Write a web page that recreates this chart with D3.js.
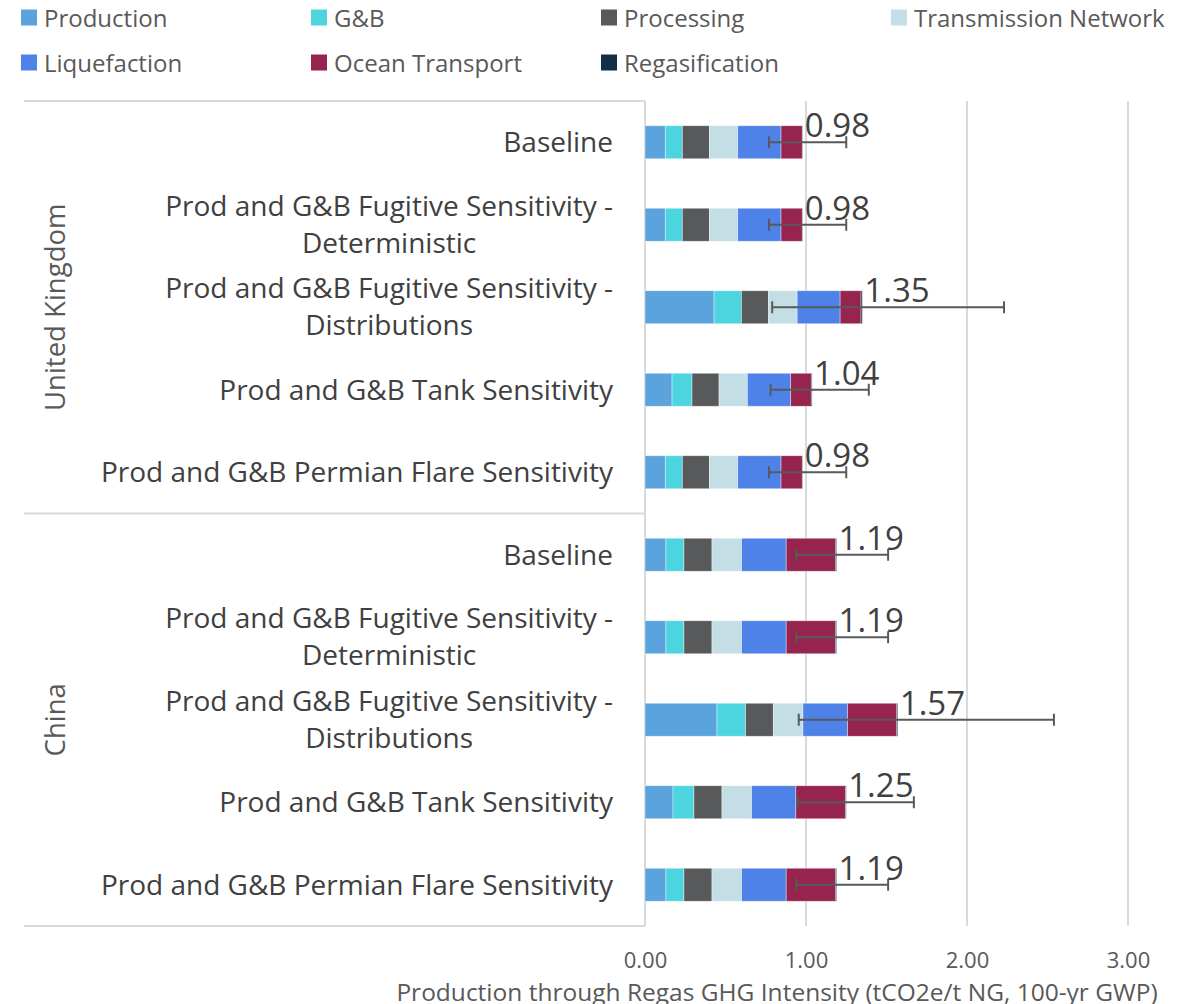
<!DOCTYPE html>
<html>
<head>
<meta charset="utf-8">
<script src="https://cdn.jsdelivr.net/npm/d3@7"></script>
<style>
  body { margin: 0; background: #fff; }
  svg { display: block; font-family: "Open Sans", sans-serif; }
</style>
</head>
<body>
<div id="chart"></div>
<script>
// data
const countries = ["United Kingdom", "China"];
const scenarios = [
    ["Baseline"],
    ["Prod and G&B Fugitive Sensitivity -", "Deterministic"],
    ["Prod and G&B Fugitive Sensitivity -", "Distributions"],
    ["Prod and G&B Tank Sensitivity"],
    ["Prod and G&B Permian Flare Sensitivity"]
];
const seriesNames = ["Production", "G&B", "Processing", "Transmission Network", "Liquefaction", "Ocean Transport", "Regasification"];
const seriesColors = ["#5ba3dc", "#4dd5df", "#58595b", "#c3dee5", "#4e82e8", "#97244e", "#10304a"];

// one value per row: UK x5 then China x5
const production   = [0.126, 0.126, 0.429, 0.168, 0.126, 0.130, 0.130, 0.447, 0.174, 0.130];
const gb           = [0.106, 0.106, 0.170, 0.124, 0.106, 0.112, 0.112, 0.178, 0.130, 0.112];
const processing   = [0.168, 0.168, 0.168, 0.168, 0.168, 0.174, 0.174, 0.172, 0.174, 0.174];
const transmission = [0.176, 0.176, 0.178, 0.176, 0.176, 0.184, 0.184, 0.184, 0.184, 0.184];
const liquefaction = [0.269, 0.269, 0.267, 0.269, 0.269, 0.277, 0.277, 0.277, 0.275, 0.277];
const ocean        = [0.132, 0.132, 0.130, 0.128, 0.132, 0.306, 0.306, 0.306, 0.309, 0.306];
const regas        = [0.003, 0.003, 0.008, 0.005, 0.003, 0.007, 0.007, 0.006, 0.004, 0.007];
const errLow       = [0.77, 0.77, 0.79, 0.78, 0.77, 0.94, 0.94, 0.955, 0.946, 0.94];
const errHigh      = [1.25, 1.25, 2.23, 1.39, 1.25, 1.51, 1.51, 2.54, 1.67, 1.51];
const xTicks = [0, 1, 2, 3];
const xTitle = "Production through Regas GHG Intensity (tCO2e/t NG, 100-yr GWP)";

const width = 1192, height = 1004;
const plot = { left: 645, right: 1128, top: 101, bottom: 926 };
const groupLeft = 24;
const gridColor = "#d9d9d9";

// build rows
const seriesValues = [production, gb, processing, transmission, liquefaction, ocean, regas];
const rows = [];
countries.forEach((c, ci) => {
    scenarios.forEach((s, si) => {
        const i = ci * scenarios.length + si;
        const r = { id: i, country: c, lines: s, lo: errLow[i], hi: errHigh[i] };
        seriesNames.forEach((n, k) => { r[n] = seriesValues[k][i]; });
        r.total = d3.sum(seriesValues, v => v[i]);
        rows.push(r);
    });
});

const svg = d3.select("#chart").append("svg")
    .attr("width", width)
    .attr("height", height);

const x = d3.scaleLinear().domain([0, 3]).range([plot.left, plot.right]);
const y = d3.scaleBand()
    .domain(rows.map(d => d.id))
    .range([plot.top, plot.bottom])
    .paddingInner(0.6)
    .paddingOuter(0.3);

// gridlines
svg.append("g").selectAll("line")
    .data(xTicks.slice(1))
    .enter().append("line")
    .attr("x1", d => x(d)).attr("x2", d => x(d))
    .attr("y1", plot.top).attr("y2", plot.bottom)
    .attr("stroke", gridColor).attr("stroke-width", 2);

// category axis line + group separators
svg.append("line")
    .attr("x1", x(0)).attr("x2", x(0))
    .attr("y1", plot.top).attr("y2", plot.bottom)
    .attr("stroke", gridColor).attr("stroke-width", 2);

const groupSize = scenarios.length;
const groupEdges = d3.range(countries.length + 1).map(g =>
    g === countries.length ? plot.bottom : y(g * groupSize) - y.step() * y.paddingOuter());
svg.append("g").selectAll("line")
    .data(groupEdges)
    .enter().append("line")
    .attr("x1", groupLeft).attr("x2", x(0))
    .attr("y1", d => d).attr("y2", d => d)
    .attr("stroke", gridColor).attr("stroke-width", 2);

// stacked bars
const stack = d3.stack().keys(seriesNames)(rows);
svg.append("g").selectAll("g")
    .data(stack)
    .enter().append("g")
    .attr("fill", (d, i) => seriesColors[i])
    .selectAll("rect")
    .data(d => d)
    .enter().append("rect")
    .attr("x", d => x(d[0]))
    .attr("y", d => y(d.data.id))
    .attr("width", d => x(d[1]) - x(d[0]))
    .attr("height", y.bandwidth())
    .attr("stroke", "#ffffff")
    .attr("stroke-opacity", 0.5)
    .attr("stroke-width", 0.75);

// error bars
const capH = 6;
const err = svg.append("g").attr("stroke", "#595959").attr("stroke-width", 2);
rows.forEach(d => {
    const cy = y(d.id) + y.bandwidth() / 2;
    err.append("line").attr("x1", x(d.lo)).attr("x2", x(d.hi)).attr("y1", cy).attr("y2", cy);
    err.append("line").attr("x1", x(d.lo)).attr("x2", x(d.lo)).attr("y1", cy - capH).attr("y2", cy + capH);
    err.append("line").attr("x1", x(d.hi)).attr("x2", x(d.hi)).attr("y1", cy - capH).attr("y2", cy + capH);
});

// total labels
svg.append("g").selectAll("text")
    .data(rows)
    .enter().append("text")
    .attr("x", d => x(d.total) + 2)
    .attr("y", d => y(d.id) + y.bandwidth() / 2 - 5)
    .attr("font-size", 33)
    .attr("fill", "#404040")
    .text(d => d.total.toFixed(2));

// category labels
const catG = svg.append("g")
    .attr("font-size", 28)
    .attr("fill", "#404040")
    .attr("text-anchor", "middle");
rows.forEach(d => {
    const cy = y(d.id) + y.bandwidth() / 2 - 1;
    const t = catG.append("text").attr("dominant-baseline", "central");
    if (d.lines.length === 1) {
        t.attr("x", 613).attr("y", cy).attr("text-anchor", "end").text(d.lines[0]);
    } else {
        // two-line labels are centred on the first line
        t.attr("text-anchor", "end").attr("x", 613).attr("y", cy - 19).text(d.lines[0]);
        const w = t.node().getComputedTextLength();
        catG.append("text").attr("dominant-baseline", "central")
            .attr("x", 613 - w / 2).attr("y", cy + 18).text(d.lines[1]);
    }
});

// country labels
svg.append("g").selectAll("text")
    .data(countries)
    .enter().append("text")
    .attr("transform", (d, i) => "translate(54," + ((groupEdges[i] + groupEdges[i + 1]) / 2) + ") rotate(-90)")
    .attr("text-anchor", "middle")
    .attr("dominant-baseline", "central")
    .attr("font-size", 27.5)
    .attr("fill", "#595959")
    .text(d => d);

// x axis tick labels
const xAxis = svg.append("g")
    .attr("transform", "translate(0," + plot.bottom + ")")
    .call(d3.axisBottom(x).tickValues(xTicks).tickFormat(d3.format(".2f")).tickSize(0).tickPadding(26));
xAxis.select(".domain").remove();
xAxis.selectAll("text")
    .attr("font-family", "Open Sans, sans-serif")
    .attr("font-size", 22)
    .attr("fill", "#595959");

// axis title (runs to the bottom edge, as in the original)
svg.append("text")
    .attr("x", 777)
    .attr("y", 1001)
    .attr("text-anchor", "middle")
    .attr("font-size", 24.5)
    .attr("fill", "#595959")
    .text(xTitle);

// legend, 4 columns x 2 rows
const legend = svg.append("g").selectAll("g")
    .data(seriesNames)
    .enter().append("g")
    .attr("transform", (d, i) => "translate(" + (21 + (i % 4) * 290) + "," + (17.5 + Math.floor(i / 4) * 45) + ")");
legend.append("rect")
    .attr("x", 0).attr("y", -8)
    .attr("width", 16).attr("height", 16)
    .attr("fill", (d, i) => seriesColors[i]);
legend.append("text")
    .attr("x", 23)
    .attr("dominant-baseline", "central")
    .attr("font-size", 24)
    .attr("fill", "#595959")
    .text(d => d);
</script>
</body>
</html>
